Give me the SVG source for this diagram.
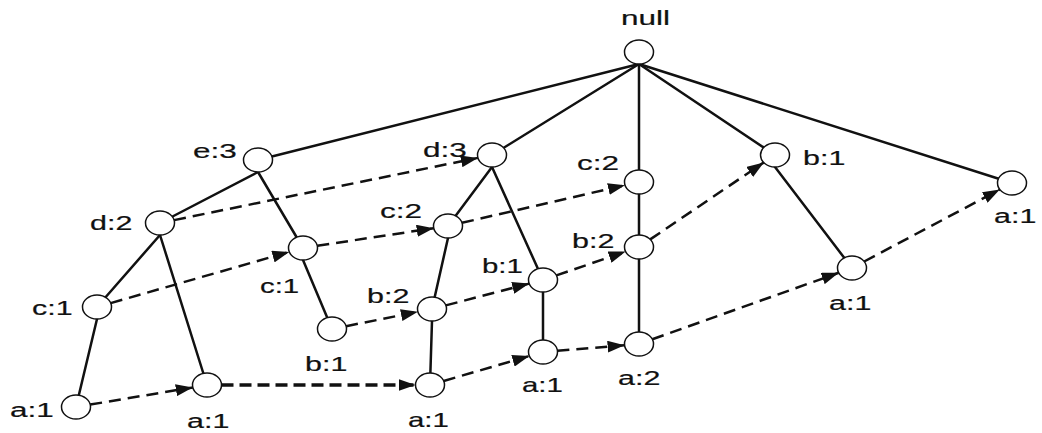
<svg xmlns="http://www.w3.org/2000/svg" width="1042" height="433" viewBox="0 0 1042 433">
  <defs>
    <marker id="arrow" viewBox="0 0 17 12" markerUnits="userSpaceOnUse" markerWidth="17" markerHeight="12" refX="17" refY="6" orient="auto">
      <path d="M0,0 L17,6 L0,12 z" fill="#111"/>
    </marker>
    <style>
      .edge { stroke: #111; stroke-width: 2.5; fill: none; stroke-linecap: round; }
      .link { stroke: #111; stroke-width: 2.5; fill: none; stroke-dasharray: 12 7; marker-end: url(#arrow); }
      .link.bold { stroke-width: 3.6; stroke-dasharray: 12 6; }
      .node ellipse { fill: #fff; stroke: #111; stroke-width: 1.5; }
      .node text { font-family: "Liberation Sans", Arial, sans-serif; font-size: 21px; fill: #111; stroke: #111; stroke-width: 0.2; }
    </style>
  </defs>

  <rect width="1042" height="433" fill="#fff"/>

  <g id="connectors">
    <!-- tree edges: parent (bottom point) to child -->
    <g id="tree-edges">
      <line class="edge" x1="639" y1="64" x2="258" y2="160"/>
      <line class="edge" x1="639" y1="64" x2="492" y2="155"/>
      <line class="edge" x1="639" y1="64" x2="639" y2="182"/>
      <line class="edge" x1="639" y1="64" x2="775" y2="155"/>
      <line class="edge" x1="639" y1="64" x2="1012" y2="183"/>
      <line class="edge" x1="258" y1="172" x2="160" y2="223"/>
      <line class="edge" x1="258" y1="172" x2="303" y2="248"/>
      <line class="edge" x1="160" y1="235" x2="97" y2="307"/>
      <line class="edge" x1="160" y1="235" x2="207" y2="385"/>
      <line class="edge" x1="97" y1="319" x2="76" y2="407"/>
      <line class="edge" x1="303" y1="260" x2="332" y2="329"/>
      <line class="edge" x1="492" y1="167" x2="448" y2="226"/>
      <line class="edge" x1="492" y1="167" x2="543" y2="280"/>
      <line class="edge" x1="448" y1="238" x2="432" y2="309"/>
      <line class="edge" x1="432" y1="321" x2="430" y2="385"/>
      <line class="edge" x1="543" y1="292" x2="543" y2="352"/>
      <line class="edge" x1="639" y1="182" x2="639" y2="344"/>
      <line class="edge" x1="775" y1="167" x2="852" y2="268"/>
    </g>
    <!-- node-links between items of the same name -->
    <g id="node-links">
      <line class="link" x1="174.1" y1="220.1" x2="477.9" y2="157.9"/>
      <line class="link" x1="110.7" y1="303.1" x2="289.3" y2="251.9"/>
      <line class="link" x1="317.3" y1="245.8" x2="433.7" y2="228.2"/>
      <line class="link" x1="462.0" y1="222.8" x2="625.0" y2="185.2"/>
      <line class="link" x1="346.1" y1="326.2" x2="417.9" y2="311.8"/>
      <line class="link" x1="445.8" y1="305.4" x2="529.2" y2="283.6"/>
      <line class="link" x1="556.4" y1="275.4" x2="625.6" y2="251.6"/>
      <line class="link" x1="650.2" y1="239.4" x2="763.8" y2="162.4"/>
      <line class="link" x1="90.2" y1="404.6" x2="192.8" y2="387.4"/>
      <line class="link bold" x1="221.5" y1="385" x2="415.5" y2="385"/>
      <line class="link" x1="443.7" y1="381.0" x2="529.3" y2="356.0"/>
      <line class="link" x1="557.4" y1="350.8" x2="624.6" y2="345.2"/>
      <line class="link" x1="652.3" y1="339.3" x2="838.7" y2="272.8"/>
      <line class="link" x1="864.2" y1="261.5" x2="999.8" y2="189.5"/>
    </g>
  </g>

  <!-- labels are set in a horizontally widened sans -->
  <g id="n-null" class="node"><ellipse cx="639" cy="52" rx="14.5" ry="12"/><text transform="translate(621,25) scale(1.5,1)">null</text></g>
  <g id="n-e3" class="node"><ellipse cx="258" cy="160" rx="14.5" ry="12"/><text transform="translate(193,158) scale(1.5,1)">e:3</text></g>
  <g id="n-d3" class="node"><ellipse cx="492" cy="155" rx="14.5" ry="12"/><text transform="translate(423,157) scale(1.5,1)">d:3</text></g>
  <g id="n-c2-top" class="node"><ellipse cx="639" cy="182" rx="14.5" ry="12"/><text transform="translate(577,170) scale(1.5,1)">c:2</text></g>
  <g id="n-b1-right" class="node"><ellipse cx="775" cy="155" rx="14.5" ry="12"/><text transform="translate(803,165) scale(1.45,1)">b:1</text></g>
  <g id="n-a1-far" class="node"><ellipse cx="1012" cy="183" rx="14.5" ry="12"/><text transform="translate(994,223) scale(1.45,1)">a:1</text></g>
  <g id="n-d2" class="node"><ellipse cx="160" cy="223" rx="14.5" ry="12"/><text transform="translate(90,230) scale(1.45,1)">d:2</text></g>
  <g id="n-c2-mid" class="node"><ellipse cx="448" cy="226" rx="14.5" ry="12"/><text transform="translate(380,218) scale(1.5,1)">c:2</text></g>
  <g id="n-b2-right" class="node"><ellipse cx="639" cy="247" rx="14.5" ry="12"/><text transform="translate(572,248) scale(1.45,1)">b:2</text></g>
  <g id="n-c1-mid" class="node"><ellipse cx="303" cy="248" rx="14.5" ry="12"/><text transform="translate(260,293) scale(1.4,1)">c:1</text></g>
  <g id="n-b1-mid" class="node"><ellipse cx="543" cy="280" rx="14.5" ry="12"/><text transform="translate(482,273) scale(1.4,1)">b:1</text></g>
  <g id="n-a1-rmid" class="node"><ellipse cx="852" cy="268" rx="14.5" ry="12"/><text transform="translate(829,310) scale(1.45,1)">a:1</text></g>
  <g id="n-c1-left" class="node"><ellipse cx="97" cy="307" rx="14.5" ry="12"/><text transform="translate(32,315) scale(1.45,1)">c:1</text></g>
  <g id="n-b2-low" class="node"><ellipse cx="432" cy="309" rx="14.5" ry="12"/><text transform="translate(367,303) scale(1.45,1)">b:2</text></g>
  <g id="n-b1-low" class="node"><ellipse cx="332" cy="329" rx="14.5" ry="12"/><text transform="translate(305,371) scale(1.45,1)">b:1</text></g>
  <g id="n-a1-mid" class="node"><ellipse cx="543" cy="352" rx="14.5" ry="12"/><text transform="translate(522,392) scale(1.4,1)">a:1</text></g>
  <g id="n-a2" class="node"><ellipse cx="639" cy="344" rx="14.5" ry="12"/><text transform="translate(618,385) scale(1.45,1)">a:2</text></g>
  <g id="n-a1-left" class="node"><ellipse cx="76" cy="407" rx="14.5" ry="12"/><text transform="translate(10,417) scale(1.5,1)">a:1</text></g>
  <g id="n-a1-d" class="node"><ellipse cx="207" cy="385" rx="14.5" ry="12"/><text transform="translate(187,428) scale(1.45,1)">a:1</text></g>
  <g id="n-a1-b" class="node"><ellipse cx="430" cy="385" rx="14.5" ry="12"/><text transform="translate(408,427) scale(1.4,1)">a:1</text></g>
</svg>
